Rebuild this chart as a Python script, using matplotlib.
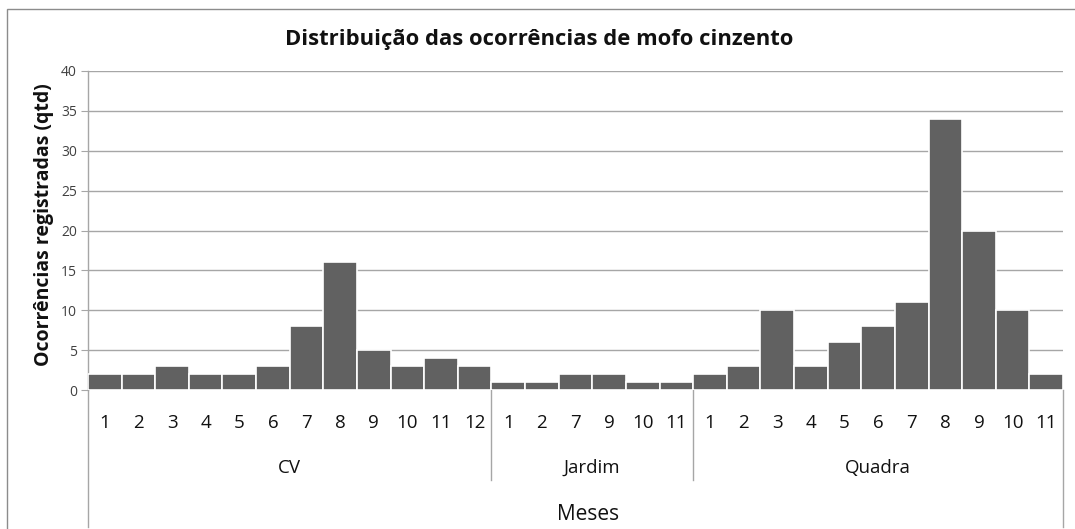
import matplotlib
matplotlib.use("Agg")
import matplotlib.pyplot as plt
from matplotlib.patches import Rectangle
import matplotlib.transforms as mtransforms

# ---- data ----
groups = ["CV", "Jardim", "Quadra"]
cv_months = ["1", "2", "3", "4", "5", "6", "7", "8", "9", "10", "11", "12"]
cv_values = [2, 2, 3, 2, 2, 3, 8, 16, 5, 3, 4, 3]
jardim_months = ["1", "2", "7", "9", "10", "11"]
jardim_values = [1, 1, 2, 2, 1, 1]
quadra_months = ["1", "2", "3", "4", "5", "6", "7", "8", "9", "10", "11"]
quadra_values = [2, 3, 10, 3, 6, 8, 11, 34, 20, 10, 2]
y_ticks = [0, 5, 10, 15, 20, 25, 30, 35, 40]

title = "Distribuição das ocorrências de mofo cinzento"
ylabel = "Ocorrências registradas (qtd)"
xlabel = "Meses"

group_months = [cv_months, jardim_months, quadra_months]
group_values = [cv_values, jardim_values, quadra_values]

labels = [m for g in group_months for m in g]
values = [v for g in group_values for v in g]
n = len(values)

W, H = 1075, 529
fig = plt.figure(figsize=(W / 100, H / 100), dpi=100)
font = "Open Sans"
plt.rcParams["font.family"] = [font, "DejaVu Sans"]

# outer chart border
fig.patches.append(Rectangle((7 / W, -0.1), 1.2, (529 - 9) / H + 0.1,
                             transform=fig.transFigure, fill=False,
                             edgecolor="#8c8c8c", linewidth=1.0))

left, right, top, zero = 88, 1063, 71, 390
ax = fig.add_axes([left / W, (H - zero) / H, (right - left) / W, (zero - top) / H])

xs = [i + 0.5 for i in range(n)]
ax.bar(xs, values, width=1.0, color="#616161", edgecolor="white", linewidth=1.2, zorder=3)

ax.set_xlim(0, n)
ax.set_ylim(0, 40)
ax.set_yticks(y_ticks)
ax.set_yticklabels([str(t) for t in y_ticks], fontsize=10, color="#404040")
ax.yaxis.grid(True, color="#a6a6a6", linewidth=1.0, zorder=0)
ax.set_axisbelow(True)
ax.tick_params(axis="y", length=5, color="#a6a6a6", pad=3, direction="out")

ax.set_xticks(xs)
ax.set_xticklabels(labels, fontsize=13.5, color="#111111")
ax.tick_params(axis="x", length=0, pad=17)

for s in ["top", "right", "bottom"]:
    ax.spines[s].set_visible(False)
ax.spines["left"].set_color("#a6a6a6")
ax.spines["left"].set_linewidth(1.0)

# category separators below the axis
blend = mtransforms.blended_transform_factory(ax.transData, fig.transFigure)
y0 = (H - zero) / H
y_div = (H - 480) / H
y_out = (H - 527) / H
ax.plot([0, 0], [y0, y_out], transform=blend, color="#a6a6a6", lw=1.0, clip_on=False)
ax.plot([n, n], [y0, y_out], transform=blend, color="#a6a6a6", lw=1.0, clip_on=False)
pos = 0
for gi, g in enumerate(groups):
    cnt = len(group_values[gi])
    ax.text(pos + cnt / 2, (H - 468) / H, g, transform=blend, ha="center", va="center",
            fontsize=13.5, color="#111111")
    pos += cnt
    if gi < len(groups) - 1:
        ax.plot([pos, pos], [y0, y_div], transform=blend, color="#a6a6a6", lw=1.0, clip_on=False)

fig.text(588 / W, (H - 514) / H, xlabel, ha="center", va="center", fontsize=15, color="#111111")
fig.text(539 / W, (H - 40) / H, title, ha="center", va="center", fontsize=15.8,
         fontweight="bold", color="#111111")
fig.text(44 / W, (H - 225) / H, ylabel, ha="center", va="center", rotation=90,
         fontsize=14, fontweight="bold", color="#111111")

fig.savefig("out.png", dpi=100, facecolor="white")
